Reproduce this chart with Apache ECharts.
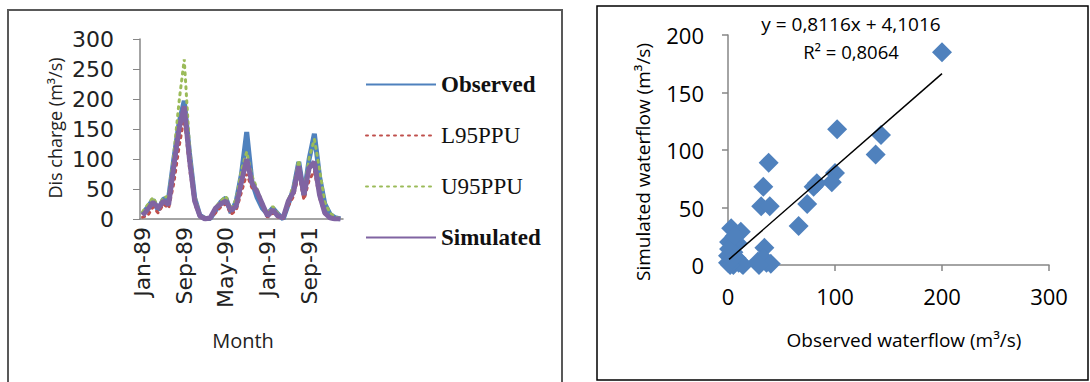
<!DOCTYPE html>
<html><head><meta charset="utf-8">
<script src="https://cdn.jsdelivr.net/npm/echarts@6/dist/echarts.min.js"></script>
<style>html,body{margin:0;padding:0;background:#fff}#c{width:1090px;height:382px}</style>
</head><body><div id="c"></div>
<script>
// ---- Left panel: monthly discharge ----
const months = ['Jan-89','Feb-89','Mar-89','Apr-89','May-89','Jun-89','Jul-89','Aug-89','Sep-89','Oct-89','Nov-89','Dec-89',
  'Jan-90','Feb-90','Mar-90','Apr-90','May-90','Jun-90','Jul-90','Aug-90','Sep-90','Oct-90','Nov-90','Dec-90',
  'Jan-91','Feb-91','Mar-91','Apr-91','May-91','Jun-91','Jul-91','Aug-91','Sep-91','Oct-91','Nov-91','Dec-91',
  'Jan-92','Feb-92','Mar-92'];
const observed  = [8,20,32,15,33,35,100,160,197,110,35,6, 1,1,14,28,35,10,30,75,145,62,36,18, 8,18,8,0,25,50,95,40,100,142,70,25,8,2,0];
const l95ppu    = [3,6,20,10,25,18,60,120,170,85,25,3, 0,0,10,20,25,8,15,45,75,52,48,20, 3,10,3,0,22,38,75,32,65,80,35,8,1,0,0];
const u95ppu    = [12,24,36,20,36,38,108,195,266,122,40,8, 2,3,20,30,38,16,34,82,112,72,50,28, 9,21,9,3,32,56,98,45,102,133,82,28,10,3,1];
const simulated = [6,16,28,18,30,24,88,150,188,100,30,5, 0,2,18,25,30,14,22,62,100,60,45,25, 5,15,5,2,30,45,88,40,85,95,40,10,2,0,0];
const seriesNames = ['Observed','L95PPU','U95PPU','Simulated'];
const dischargeTicks = {min:0, max:300, step:50};

// ---- Right panel: observed vs simulated waterflow ----
const flowObserved  = [200,102,143,138,38,100,97,83,80,33,74,31,39,66,3,12,1,9,34,0,5,3,13,28,36,33,0,5,10,8,1,40,29,14,2,6,4];
const flowSimulated = [185,118,113,96,89,80,72,71,68,68,53,51,51,34,32,29,20,19,15,8,11,2,1,3,2,6,2,0,2,6,14,1,0,0,0,25,5];
const trendSlope = 0.8116, trendIntercept = 4.1016;
const trendXRange = [1, 200];
const flowXTicks = {min:0, max:300, step:100};
const flowYTicks = {min:0, max:200, step:50};

const scatterData = flowObserved.map((x,i)=>[x, flowSimulated[i]]);
const trendData = trendXRange.map(x=>[x, trendSlope*x + trendIntercept]);

const axisGray = '#868686';
const chart = echarts.init(document.getElementById('c'), null, {renderer:'svg'});
chart.setOption({
  animation:false,
  backgroundColor:'#fff',
  grid:[{left:140, top:39, width:203, height:180}, {left:728, top:35, width:321, height:230}],
  legend:{
    data:seriesNames, orient:'vertical', left:360, top:68, itemWidth:70, itemHeight:6, itemGap:28,
    itemStyle:{opacity:0},
    formatter:n=> (n==='Observed'||n==='Simulated') ? '{b|'+n+'}' : '{n|'+n+'}',
    textStyle:{rich:{
      b:{fontFamily:'Liberation Serif', fontWeight:'bold', fontSize:23, lineHeight:24, color:'#111'},
      n:{fontFamily:'Liberation Serif', fontSize:23, lineHeight:24, color:'#111'}
    }}
  },
  xAxis:[
    {gridIndex:0, type:'category', data:months, boundaryGap:true,
     axisLine:{lineStyle:{color:axisGray, width:1.5}}, axisTick:{show:false},
     axisLabel:{interval:7, rotate:90, margin:8, fontFamily:'DejaVu Sans', fontSize:22, color:'#222'}},
    {gridIndex:1, type:'value', min:flowXTicks.min, max:flowXTicks.max, interval:flowXTicks.step, splitLine:{show:false},
     axisLine:{show:true, lineStyle:{color:axisGray, width:1.5}}, axisTick:{show:true, length:6, lineStyle:{color:axisGray, width:1.5}},
     axisLabel:{margin:20, fontFamily:'Open Sans', fontSize:22, color:'#000'}}
  ],
  yAxis:[
    {gridIndex:0, type:'value', min:dischargeTicks.min, max:dischargeTicks.max, interval:dischargeTicks.step, splitLine:{show:false},
     axisLine:{show:true, lineStyle:{color:axisGray, width:1.5}}, axisTick:{show:true, length:7, lineStyle:{color:axisGray}},
     axisLabel:{margin:26, fontFamily:'DejaVu Sans', fontSize:22, color:'#222'}},
    {gridIndex:1, type:'value', min:flowYTicks.min, max:flowYTicks.max, interval:flowYTicks.step, splitLine:{show:false},
     axisLine:{show:true, lineStyle:{color:axisGray, width:1.5}}, axisTick:{show:true, length:6, lineStyle:{color:axisGray, width:1.5}},
     axisLabel:{margin:24, fontFamily:'Open Sans', fontSize:22, color:'#000'}}
  ],
  series:[
    {name:'Observed', type:'line', xAxisIndex:0, yAxisIndex:0, data:observed, symbol:'none',
     lineStyle:{color:'#4F81BD', width:5}, itemStyle:{color:'#4F81BD'}},
    {name:'L95PPU', type:'line', xAxisIndex:0, yAxisIndex:0, data:l95ppu, symbol:'none',
     lineStyle:{color:'#C0504D', width:3, type:[2,5], cap:'round'}, itemStyle:{color:'#C0504D'}},
    {name:'U95PPU', type:'line', xAxisIndex:0, yAxisIndex:0, data:u95ppu, symbol:'none',
     lineStyle:{color:'#9BBB59', width:3, type:[2,5], cap:'round'}, itemStyle:{color:'#9BBB59'}},
    {name:'Simulated', type:'line', xAxisIndex:0, yAxisIndex:0, data:simulated, symbol:'none',
     lineStyle:{color:'#8064A2', width:5}, itemStyle:{color:'#8064A2'}},
    {name:'Waterflow', type:'scatter', xAxisIndex:1, yAxisIndex:1, data:scatterData, symbol:'diamond', symbolSize:20,
     itemStyle:{color:'#4F81BD', opacity:1}},
    {name:'Trend', type:'line', xAxisIndex:1, yAxisIndex:1, data:trendData, symbol:'none',
     lineStyle:{color:'#000', width:1.5}}
  ],
  graphic:[
    {type:'rect', shape:{x:8, y:10, width:554, height:385}, style:{fill:'none', stroke:'#595959', lineWidth:2}, silent:true},
    {type:'rect', shape:{x:597, y:6, width:491, height:374}, style:{fill:'none', stroke:'#000', lineWidth:1.5}, silent:true},
    {type:'text', x:55, y:128, rotation:Math.PI/2, style:{text:'Dis charge (m³/s)', font:'18px "Open Sans"', fill:'#222', textAlign:'center', textVerticalAlign:'middle'}},
    {type:'text', x:243, y:340, style:{text:'Month', font:'20px "Open Sans"', fill:'#222', textAlign:'center', textVerticalAlign:'middle'}},
    {type:'text', x:643, y:162, rotation:Math.PI/2, style:{text:'Simulated waterflow (m³/s)', font:'19px "Open Sans"', fill:'#000', textAlign:'center', textVerticalAlign:'middle'}},
    {type:'text', x:904, y:340, style:{text:'Observed waterflow (m³/s)', font:'19px "Open Sans"', fill:'#000', textAlign:'center', textVerticalAlign:'middle'}},
    {type:'text', x:851, y:24, style:{text:'y = 0,8116x + 4,1016', font:'19px "Open Sans"', fill:'#000', textAlign:'center', textVerticalAlign:'middle'}},
    {type:'text', x:851, y:51, style:{text:'R² = 0,8064', font:'18.5px "Open Sans"', fill:'#000', textAlign:'center', textVerticalAlign:'middle'}}
  ]
});
</script></body></html>
